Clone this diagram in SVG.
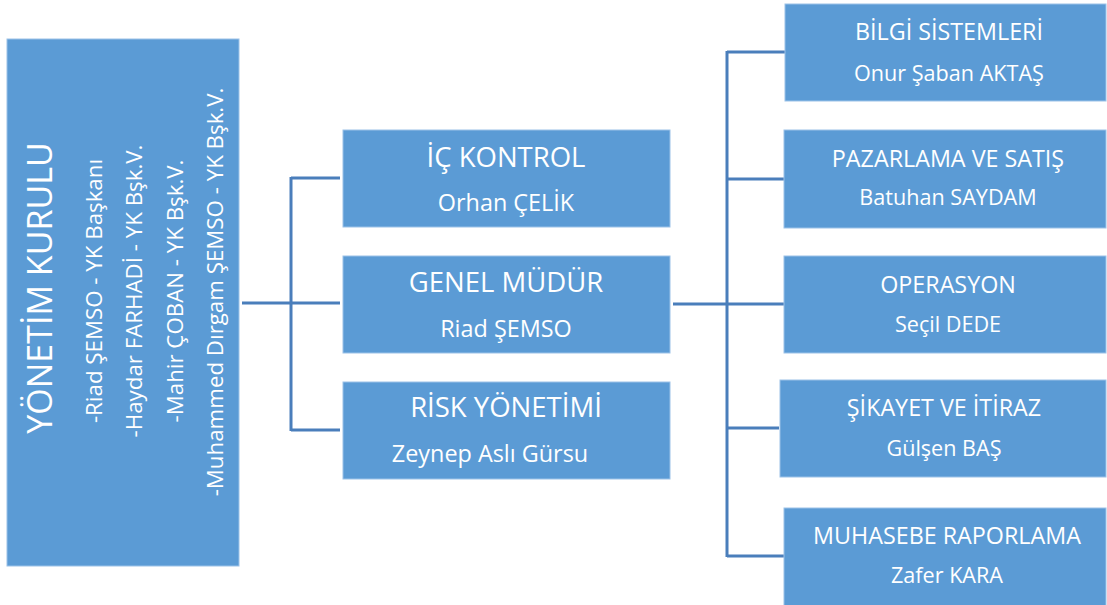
<svg xmlns="http://www.w3.org/2000/svg" width="1107" height="605" viewBox="0 0 1107 605">
<style>
.box{fill:#5b9bd5;stroke:#9cc2e8;stroke-width:1}
.t{fill:#ffffff;font-family:"Open Sans","DejaVu Sans",sans-serif;text-anchor:middle}
.mt{font-size:27.5px}
.ms{font-size:23.4px}
.rt{font-size:23.3px}
.rs{font-size:21.6px}
.vt{font-size:34px}
.vs{font-size:22.3px}
.c{fill:none;stroke:#4a7ebb;stroke-width:3}
</style>
<rect width="1107" height="605" fill="#ffffff"/>
<g id="connectors">
<path class="c" d="M242 303H340M291 177V431M291 178H340M291 430H340"/>
<path class="c" d="M673 304H784M727 51V557M727 52H785M727 179H784M727 428H779M727 556H784"/>
</g>
<g id="yonetim-kurulu">
<rect class="box" x="7" y="39" width="232" height="527"/>
<text class="t vt" transform="translate(52,288) rotate(-90)">YÖNETİM KURULU</text>
<text class="t vs" transform="translate(102,291) rotate(-90)">-Riad ŞEMSO - YK Başkanı</text>
<text class="t vs" transform="translate(142,291) rotate(-90)">-Haydar FARHADİ - YK Bşk.V.</text>
<text class="t vs" transform="translate(183,291) rotate(-90)">-Mahir ÇOBAN - YK Bşk.V.</text>
<text class="t vs" transform="translate(223,292) rotate(-90)">-Muhammed Dırgam ŞEMSO - YK Bşk.V.</text>
</g>
<g id="ic-kontrol">
<rect class="box" x="343" y="130" width="327" height="97"/>
<text class="t mt" x="506" y="167">İÇ KONTROL</text>
<text class="t ms" x="506" y="211">Orhan ÇELİK</text>
</g>
<g id="genel-mudur">
<rect class="box" x="343" y="256" width="327" height="97"/>
<text class="t mt" x="506" y="292">GENEL MÜDÜR</text>
<text class="t ms" x="506" y="337">Riad ŞEMSO</text>
</g>
<g id="risk-yonetimi">
<rect class="box" x="343" y="382" width="327" height="97"/>
<text class="t mt" x="506" y="417">RİSK YÖNETİMİ</text>
<text class="t ms" x="490" y="462">Zeynep Aslı Gürsu</text>
</g>
<g id="bilgi-sistemleri">
<rect class="box" x="785" y="4" width="321" height="97"/>
<text class="t rt" x="949" y="40">BİLGİ SİSTEMLERİ</text>
<text class="t rs" x="949" y="81">Onur Şaban AKTAŞ</text>
</g>
<g id="pazarlama">
<rect class="box" x="784" y="130" width="322" height="98"/>
<text class="t rt" x="948" y="167">PAZARLAMA VE SATIŞ</text>
<text class="t rs" x="948" y="205">Batuhan SAYDAM</text>
</g>
<g id="operasyon">
<rect class="box" x="784" y="256" width="322" height="97"/>
<text class="t rt" x="948" y="293">OPERASYON</text>
<text class="t rs" x="948" y="332">Seçil DEDE</text>
</g>
<g id="sikayet">
<rect class="box" x="780" y="380" width="326" height="97"/>
<text class="t rt" x="944" y="416">ŞİKAYET VE İTİRAZ</text>
<text class="t rs" x="944" y="456">Gülşen BAŞ</text>
</g>
<g id="muhasebe">
<rect class="box" x="784" y="508" width="322" height="98"/>
<text class="t rt" x="947" y="544">MUHASEBE RAPORLAMA</text>
<text class="t rs" x="947" y="583">Zafer KARA</text>
</g>
</svg>
